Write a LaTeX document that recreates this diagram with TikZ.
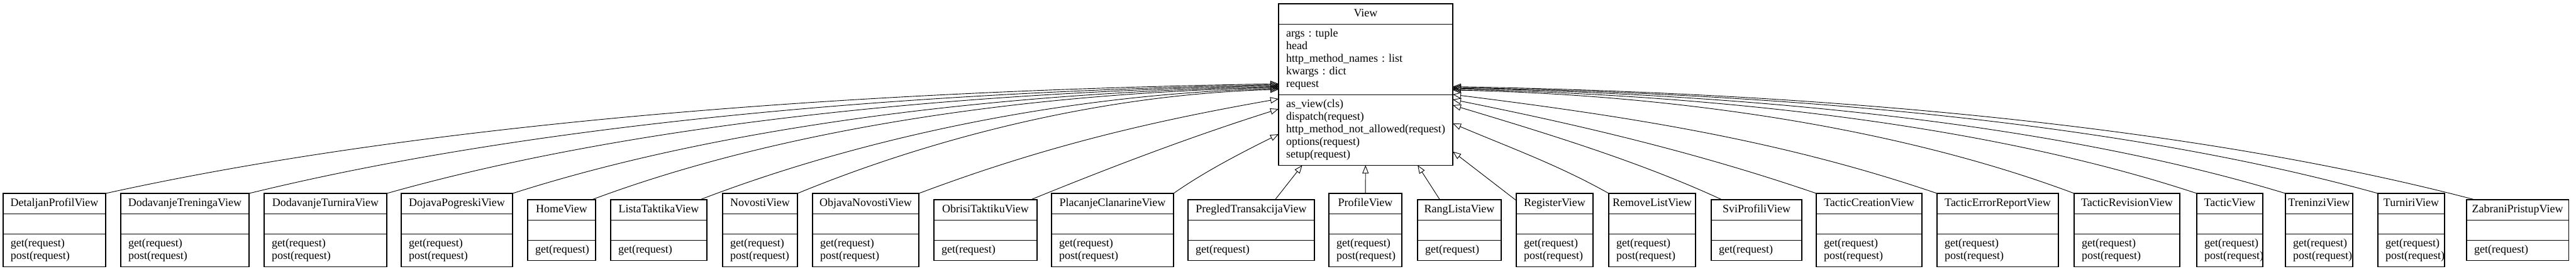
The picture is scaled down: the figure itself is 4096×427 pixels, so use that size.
\documentclass[tikz,border=0pt]{standalone}
\usepackage{fontspec}
\setmainfont{Liberation Serif}
\usetikzlibrary{shapes.multipart, arrows.meta, calc}

\begin{document}
\begin{tikzpicture}[
x=0.5pt, y=-0.5pt,
cls/.style={rectangle split, rectangle split parts=3, draw=black, line width=0.55pt, anchor=north west, inner xsep=6pt, inner ysep=2.75pt, outer sep=0pt, align=left, font=\fontsize{9pt}{10pt}\selectfont\frenchspacing},
inh/.style={-{Triangle[open, length=6.5pt, width=5pt]}, line width=0.45pt}
]
\useasboundingbox (0,0) rectangle (4096,427);
%Nodes
\node[cls, text width=126.5pt] (View) at (2033,6) {\hbox to\hsize{\hss\strut View\hss}
  \nodepart{second}\strut args : tuple\\ head\\ http\_method\_names : list\\ kwargs : dict\\ request\strut
  \nodepart{third}\strut as\_view(cls)\\ dispatch(request)\\ http\_method\_not\_allowed(request)\\ options(request)\\ setup(request)\strut};

\node[cls, text width=69.5pt] (DetaljanProfilView) at (5,307) {\hbox to\hsize{\hss\strut DetaljanProfilView\hss}\nodepart{second}\strut\nodepart{third}\strut get(request)\\ post(request)\strut};
\node[cls, text width=90pt] (DodavanjeTreningaView) at (192,307) {\hbox to\hsize{\hss\strut DodavanjeTreningaView\hss}\nodepart{second}\strut\nodepart{third}\strut get(request)\\ post(request)\strut};
\node[cls, text width=85.5pt] (DodavanjeTurniraView) at (420,307) {\hbox to\hsize{\hss\strut DodavanjeTurniraView\hss}\nodepart{second}\strut\nodepart{third}\strut get(request)\\ post(request)\strut};
\node[cls, text width=76.5pt] (DojavaPogreskiView) at (638,307) {\hbox to\hsize{\hss\strut DojavaPogreskiView\hss}\nodepart{second}\strut\nodepart{third}\strut get(request)\\ post(request)\strut};
\node[cls, text width=42pt] (HomeView) at (839,317) {\hbox to\hsize{\hss\strut HomeView\hss}\nodepart{second}\strut\nodepart{third}\strut get(request)};
\node[cls, text width=64.5pt] (ListaTaktikaView) at (971,317) {\hbox to\hsize{\hss\strut ListaTaktikaView\hss}\nodepart{second}\strut\nodepart{third}\strut get(request)};
\node[cls, text width=47.5pt] (NovostiView) at (1149,307) {\hbox to\hsize{\hss\strut NovostiView\hss}\nodepart{second}\strut\nodepart{third}\strut get(request)\\ post(request)\strut};
\node[cls, text width=72.5pt] (ObjavaNovostiView) at (1292,307) {\hbox to\hsize{\hss\strut ObjavaNovostiView\hss}\nodepart{second}\strut\nodepart{third}\strut get(request)\\ post(request)\strut};
\node[cls, text width=70pt] (ObrisiTaktikuView) at (1485,317) {\hbox to\hsize{\hss\strut ObrisiTaktikuView\hss}\nodepart{second}\strut\nodepart{third}\strut get(request)};
\node[cls, text width=85pt] (PlacanjeClanarineView) at (1672,307) {\hbox to\hsize{\hss\strut PlacanjeClanarineView\hss}\nodepart{second}\strut\nodepart{third}\strut get(request)\\ post(request)\strut};
\node[cls, text width=88.5pt] (PregledTransakcijaView) at (1889,317) {\hbox to\hsize{\hss\strut PregledTransakcijaView\hss}\nodepart{second}\strut\nodepart{third}\strut get(request)};
\node[cls, text width=46pt] (ProfileView) at (2113,307) {\hbox to\hsize{\hss\strut ProfileView\hss}\nodepart{second}\strut\nodepart{third}\strut get(request)\\ post(request)\strut};
\node[cls, text width=54.5pt] (RangListaView) at (2254,317) {\hbox to\hsize{\hss\strut RangListaView\hss}\nodepart{second}\strut\nodepart{third}\strut get(request)};
\node[cls, text width=49pt] (RegisterView) at (2411,307) {\hbox to\hsize{\hss\strut RegisterView\hss}\nodepart{second}\strut\nodepart{third}\strut get(request)\\ post(request)\strut};
\node[cls, text width=57pt] (RemoveListView) at (2558,307) {\hbox to\hsize{\hss\strut RemoveListView\hss}\nodepart{second}\strut\nodepart{third}\strut get(request)\\ post(request)\strut};
\node[cls, text width=60pt] (SviProfiliView) at (2721,317) {\hbox to\hsize{\hss\strut SviProfiliView\hss}\nodepart{second}\strut\nodepart{third}\strut get(request)};
\node[cls, text width=72pt] (TacticCreationView) at (2888,307) {\hbox to\hsize{\hss\strut TacticCreationView\hss}\nodepart{second}\strut\nodepart{third}\strut get(request)\\ post(request)\strut};
\node[cls, text width=84.5pt] (TacticErrorReportView) at (3080,307) {\hbox to\hsize{\hss\strut TacticErrorReportView\hss}\nodepart{second}\strut\nodepart{third}\strut get(request)\\ post(request)\strut};
\node[cls, text width=72pt] (TacticRevisionView) at (3298,307) {\hbox to\hsize{\hss\strut TacticRevisionView\hss}\nodepart{second}\strut\nodepart{third}\strut get(request)\\ post(request)\strut};
\node[cls, text width=40.5pt] (TacticView) at (3493,307) {\hbox to\hsize{\hss\strut TacticView\hss}\nodepart{second}\strut\nodepart{third}\strut get(request)\\ post(request)\strut};
\node[cls, text width=41.5pt] (TreninziView) at (3634,307) {\hbox to\hsize{\hss\strut TreninziView\hss}\nodepart{second}\strut\nodepart{third}\strut get(request)\\ post(request)\strut};
\node[cls, text width=41pt] (TurniriView) at (3781,307) {\hbox to\hsize{\hss\strut TurniriView\hss}\nodepart{second}\strut\nodepart{third}\strut get(request)\\ post(request)\strut};
\node[cls, text width=69pt] (ZabraniPristupView) at (3922,317) {\hbox to\hsize{\hss\strut ZabraniPristupView\hss}\nodepart{second}\strut\nodepart{third}\strut get(request)};

%Arrow ends on View
\coordinate (tipL1) at ($(View.north west)+(0,127)$);
\coordinate (tipL2) at ($(View.north west)+(0,128.5)$);
\coordinate (tipL3) at ($(View.north west)+(0,130)$);
\coordinate (tipL4) at ($(View.north west)+(0,131.5)$);
\coordinate (tipL5) at ($(View.north west)+(0,133)$);
\coordinate (tipL6) at ($(View.north west)+(0,134.5)$);
\coordinate (tipL7) at ($(View.north west)+(0,136)$);
\coordinate (tipL8) at ($(View.north west)+(0,151)$);
\coordinate (tipL9) at ($(View.north west)+(0,167)$);
\coordinate (tipL10) at ($(View.north west)+(0,207)$);
\coordinate (tipR2) at ($(View.north east)+(0,190)$);
\coordinate (tipR3) at ($(View.north east)+(0,161)$);
\coordinate (tipR4) at ($(View.north east)+(0,152)$);
\coordinate (tipR5) at ($(View.north east)+(0,144)$);
\coordinate (tipR6) at ($(View.north east)+(0,137)$);
\coordinate (tipR7) at ($(View.north east)+(0,135.5)$);
\coordinate (tipR8) at ($(View.north east)+(0,134)$);
\coordinate (tipR9) at ($(View.north east)+(0,133)$);
\coordinate (tipR10) at ($(View.north east)+(0,131.5)$);

%Lines
\draw[inh] (DetaljanProfilView.north east) .. controls +(500,-110) and +(-700,12) .. (tipL1);
\draw[inh] (DodavanjeTreningaView.north east) .. controls +(442,-108) and +(-614,12) .. (tipL2);
\draw[inh] (DodavanjeTurniraView.north east) .. controls +(383,-108) and +(-532,11) .. (tipL3);
\draw[inh] (DojavaPogreskiView.north east) .. controls +(329,-105) and +(-457,10) .. (tipL4);
\draw[inh] ([xshift=-3pt]HomeView.north east) .. controls +(295,-110) and +(-410,9) .. (tipL5);
\draw[inh] ([xshift=-5.5pt]ListaTaktikaView.north east) .. controls +(248,-95) and +(-345,9) .. (tipL6);
\draw[inh] (NovostiView.north east) .. controls +(207,-85) and +(-287,8) .. (tipL7);
\draw[inh] (ObjavaNovostiView.north east) .. controls +(200,-75) and +(-200,35) .. (tipL8);
\draw[inh] ([xshift=-5pt]ObrisiTaktikuView.north east) .. controls +(140,-57) and +(-130,41) .. (tipL9);
\draw[inh] (PlacanjeClanarineView.north east) .. controls +(50,-35) and +(-60,30) .. (tipL10);
\draw[inh] (PregledTransakcijaView) -- (View);
\draw[inh] (ProfileView) -- (View);
\draw[inh] (RangListaView) -- (View);
\draw[inh] (RegisterView) -- (View);
\draw[inh] (RemoveListView.north west) .. controls +(-80,-45) and +(90,38) .. (tipR2);
\draw[inh] ([xshift=8.5pt]SviProfiliView.north west) .. controls +(-130,-60) and +(150,45) .. (tipR3);
\draw[inh] (TacticCreationView.north west) .. controls +(-190,-65) and +(200,40) .. (tipR4);
\draw[inh] (TacticErrorReportView.north west) .. controls +(-250,-85) and +(280,35) .. (tipR5);
\draw[inh] (TacticRevisionView.north west) .. controls +(-267,-100) and +(371,8) .. (tipR6);
\draw[inh] (TacticView.north west) .. controls +(-319,-105) and +(444,10) .. (tipR7);
\draw[inh] (TreninziView.north west) .. controls +(-357,-108) and +(497,10) .. (tipR8);
\draw[inh] (TurniriView.north west) .. controls +(-397,-110) and +(552,10) .. (tipR9);
\draw[inh] ([xshift=6.5pt]ZabraniPristupView.north west) .. controls +(-439,-115) and +(609,11) .. (tipR10);
\end{tikzpicture}
\end{document}
